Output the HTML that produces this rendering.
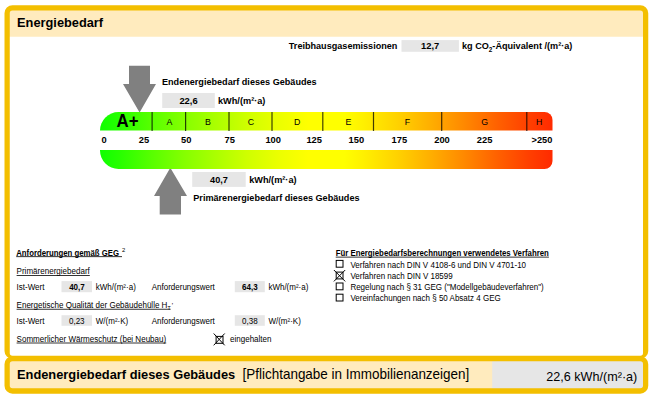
<!DOCTYPE html>
<html>
<head>
<meta charset="utf-8">
<style>
html,body{margin:0;padding:0;background:#fff;}
body{width:659px;height:400px;position:relative;overflow:hidden;font-family:"Liberation Sans",sans-serif;color:#000;}
.abs{position:absolute;white-space:nowrap;line-height:1;}
.gbox{position:absolute;}
.u{text-decoration:underline;text-decoration-thickness:0.7px;text-underline-offset:1px;}
</style>
</head>
<body>
<svg class="abs" style="left:0;top:0;" width="659" height="400" viewBox="0 0 659 400">
  <rect x="8" y="9" width="636.5" height="27.75" fill="#ffebbe"/>
  <rect x="8" y="360" width="486" height="30" fill="#ffebbe"/>
  <rect x="492.2" y="360" width="152" height="30" fill="#e6e6e6"/>
  <path d="M12.5 5.25 H640.25 A8 8 0 0 1 648.25 13.25 V350.9 A8 8 0 0 1 640.25 358.9 H12.5 A8 8 0 0 1 4.5 350.9 V13.25 A8 8 0 0 1 12.5 5.25 Z M12.5 10.5 H640.25 A2.75 2.75 0 0 1 643.0 13.25 V353.0 A2.75 2.75 0 0 1 640.25 355.75 H12.5 A2.75 2.75 0 0 1 9.75 353.0 V13.25 A2.75 2.75 0 0 1 12.5 10.5 Z" fill="#f3bf00" fill-rule="evenodd"/>
  <path d="M12.5 356.2 H640.25 A8 8 0 0 1 648.25 364.2 V385.7 A8 8 0 0 1 640.25 393.7 H12.5 A8 8 0 0 1 4.5 385.7 V364.2 A8 8 0 0 1 12.5 356.2 Z M12.5 361.3 H640.25 A2.75 2.75 0 0 1 643.0 364.05 V385.6 A2.75 2.75 0 0 1 640.25 388.35 H12.5 A2.75 2.75 0 0 1 9.75 385.6 V364.05 A2.75 2.75 0 0 1 12.5 361.3 Z" fill="#f3bf00" fill-rule="evenodd"/>
</svg>
<svg class="abs" style="left:0;top:0;" width="659" height="400" viewBox="0 0 659 400">
  <defs>
    <linearGradient id="gr" x1="100" y1="0" x2="552.5" y2="0" gradientUnits="userSpaceOnUse">
      <stop offset="0" stop-color="#0fff00"/>
      <stop offset="0.044" stop-color="#28ff00"/>
      <stop offset="0.115" stop-color="#58ff00"/>
      <stop offset="0.186" stop-color="#85ff00"/>
      <stop offset="0.254" stop-color="#aaff00"/>
      <stop offset="0.325" stop-color="#cfff00"/>
      <stop offset="0.396" stop-color="#ecff00"/>
      <stop offset="0.46" stop-color="#ffff00"/>
      <stop offset="0.54" stop-color="#ffff00"/>
      <stop offset="0.583" stop-color="#fff000"/>
      <stop offset="0.657" stop-color="#ffd200"/>
      <stop offset="0.73" stop-color="#ffaf00"/>
      <stop offset="0.804" stop-color="#ff8900"/>
      <stop offset="0.878" stop-color="#ff6100"/>
      <stop offset="0.951" stop-color="#ff3e00"/>
      <stop offset="1.0" stop-color="#ff2a00"/>
    </linearGradient>
  </defs>
  <path d="M129 65.7 H150 V84 H156 L139.6 112.4 L123 84 H129 Z" fill="#808080"/>
  <path d="M159.7 214.5 H181 V196 H187 L170.3 167.8 L154 196 H159.7 Z" fill="#808080"/>
  <path d="M100 130.5 A18.5 18.5 0 0 1 118.5 112 H544.5 A8 8 0 0 1 552.5 120 V130.5 Z" fill="url(#gr)"/>
  <path d="M100 150 H552.5 V161 A8 8 0 0 1 544.5 169 H118.5 A18.5 18.5 0 0 1 100 150.5 Z" fill="url(#gr)"/>
  <g stroke="#000" stroke-opacity="0.75" stroke-width="1.2"><line x1="152.1" y1="112" x2="152.1" y2="131"/><line x1="185.6" y1="112" x2="185.6" y2="131"/><line x1="229" y1="112" x2="229" y2="131"/><line x1="272" y1="112" x2="272" y2="131"/><line x1="322.8" y1="112" x2="322.8" y2="131"/><line x1="373.5" y1="112" x2="373.5" y2="131"/><line x1="441.7" y1="112" x2="441.7" y2="131"/><line x1="526.8" y1="112" x2="526.8" y2="131"/></g>
</svg>
<svg class="abs" style="left:0;top:0;" width="659" height="400" viewBox="0 0 659 400">
  <g stroke="#000" stroke-width="1" fill="none">
    <rect x="336.2" y="260.40" width="6.8" height="6.8" fill="#fff"/><rect x="336.2" y="272.10" width="6.8" height="6.8" fill="#fff"/><rect x="336.2" y="283.00" width="6.8" height="6.8" fill="#fff"/><rect x="336.2" y="294.20" width="6.8" height="6.8" fill="#fff"/>
    <path d="M333.9 270 L345.2 281.4 M345.2 270 L333.9 281.4"/>
    <rect x="216.1" y="336.4" width="6.9" height="6.9" fill="#fff"/>
    <path d="M213.7 333.5 L224.7 345.3 M224.7 333.5 L213.7 345.3"/>
  </g>
</svg>
<svg class="abs" style="left:0;top:0;" width="659" height="400" viewBox="0 0 659 400" font-family="Liberation Sans, sans-serif" fill="#000">
<rect x="401.50" y="40.10" width="57.40" height="11.70" fill="#e6e6e6"/>
<rect x="162.20" y="93.00" width="52.60" height="15.00" fill="#e6e6e6"/>
<rect x="192.20" y="172.00" width="53.50" height="14.90" fill="#e6e6e6"/>
<rect x="61.50" y="281.10" width="30.50" height="11.10" fill="#e6e6e6"/>
<rect x="234.80" y="281.10" width="30.00" height="11.10" fill="#e6e6e6"/>
<rect x="61.50" y="315.20" width="30.50" height="10.60" fill="#e6e6e6"/>
<rect x="234.80" y="315.20" width="30.00" height="10.60" fill="#e6e6e6"/>
<text x="17.10" y="27" font-size="13.2" font-weight="bold" textLength="86.00" lengthAdjust="spacingAndGlyphs" id="ttl">Energiebedarf</text>
<text x="288.80" y="49" font-size="9.5" font-weight="bold" textLength="108.60" lengthAdjust="spacingAndGlyphs" id="treib">Treibhausgasemissionen</text>
<text x="430.20" y="49" font-size="9.5" font-weight="bold" text-anchor="middle" textLength="18.20" lengthAdjust="spacingAndGlyphs" id="g127">12,7</text>
<text x="462.00" y="49" font-size="9.5" font-weight="bold" textLength="110.30" lengthAdjust="spacingAndGlyphs" id="kgco2">kg CO<tspan font-size="6.6" dy="2.6">2</tspan><tspan dy="-2.6">-Äquivalent /(m²·a)</tspan></text>
<text x="162.00" y="85" font-size="9.5" font-weight="bold" textLength="154.60" lengthAdjust="spacingAndGlyphs" id="ende">Endenergiebedarf dieses Gebäudes</text>
<text x="188.50" y="104" font-size="9.5" font-weight="bold" text-anchor="middle" textLength="18.20" lengthAdjust="spacingAndGlyphs" id="g226">22,6</text>
<text x="218.00" y="104" font-size="9.5" font-weight="bold" textLength="47.40" lengthAdjust="spacingAndGlyphs" id="kwh1">kWh/(m²·a)</text>
<text x="218.95" y="183" font-size="9.5" font-weight="bold" text-anchor="middle" textLength="17.80" lengthAdjust="spacingAndGlyphs" id="g407">40,7</text>
<text x="249.20" y="183" font-size="9.5" font-weight="bold" textLength="47.40" lengthAdjust="spacingAndGlyphs" id="kwh2">kWh/(m²·a)</text>
<text x="193.30" y="201" font-size="9.5" font-weight="bold" textLength="166.20" lengthAdjust="spacingAndGlyphs" id="prim">Primärenergiebedarf dieses Gebäudes</text>
<text x="127.60" y="127" font-size="18" font-weight="bold" text-anchor="middle" textLength="22.00" lengthAdjust="spacingAndGlyphs" id="la">A+</text>
<text x="169.40" y="125" font-size="8.8" text-anchor="middle">A</text>
<text x="207.90" y="125" font-size="8.8" text-anchor="middle">B</text>
<text x="250.90" y="125" font-size="8.8" text-anchor="middle">C</text>
<text x="297.10" y="125" font-size="8.8" text-anchor="middle">D</text>
<text x="348.40" y="125" font-size="8.8" text-anchor="middle">E</text>
<text x="407.40" y="125" font-size="8.8" text-anchor="middle">F</text>
<text x="484.60" y="125" font-size="8.8" text-anchor="middle">G</text>
<text x="539.20" y="125" font-size="8.8" text-anchor="middle">H</text>
<text x="104.00" y="143" font-size="9.5" font-weight="bold" text-anchor="middle" textLength="5.20" lengthAdjust="spacingAndGlyphs">0</text>
<text x="144.00" y="143" font-size="9.5" font-weight="bold" text-anchor="middle" textLength="10.40" lengthAdjust="spacingAndGlyphs">25</text>
<text x="186.20" y="143" font-size="9.5" font-weight="bold" text-anchor="middle" textLength="10.40" lengthAdjust="spacingAndGlyphs">50</text>
<text x="229.70" y="143" font-size="9.5" font-weight="bold" text-anchor="middle" textLength="10.40" lengthAdjust="spacingAndGlyphs">75</text>
<text x="273.20" y="143" font-size="9.5" font-weight="bold" text-anchor="middle" textLength="15.60" lengthAdjust="spacingAndGlyphs">100</text>
<text x="314.20" y="143" font-size="9.5" font-weight="bold" text-anchor="middle" textLength="15.60" lengthAdjust="spacingAndGlyphs">125</text>
<text x="356.40" y="143" font-size="9.5" font-weight="bold" text-anchor="middle" textLength="15.60" lengthAdjust="spacingAndGlyphs">150</text>
<text x="399.40" y="143" font-size="9.5" font-weight="bold" text-anchor="middle" textLength="15.60" lengthAdjust="spacingAndGlyphs">175</text>
<text x="442.00" y="143" font-size="9.5" font-weight="bold" text-anchor="middle" textLength="15.60" lengthAdjust="spacingAndGlyphs">200</text>
<text x="484.60" y="143" font-size="9.5" font-weight="bold" text-anchor="middle" textLength="15.60" lengthAdjust="spacingAndGlyphs">225</text>
<text x="552.30" y="143" font-size="9.5" font-weight="bold" text-anchor="end" textLength="20.80" lengthAdjust="spacingAndGlyphs" id="n250">&gt;250</text>
<text x="16.20" y="256" font-size="8.3" font-weight="bold" textLength="102.80" lengthAdjust="spacingAndGlyphs" id="anf">Anforderungen gemäß GEG</text>
<rect x="16.20" y="256.30" width="105.80" height="0.8" fill="#000"/>
<text x="122.00" y="252" font-size="5.8">2</text>
<text x="16.60" y="274" font-size="8.5" textLength="73.20" lengthAdjust="spacingAndGlyphs" id="pe">Primärenergiebedarf</text>
<rect x="16.60" y="275.10" width="73.20" height="0.8" fill="#000"/>
<text x="16.60" y="290" font-size="8.5" textLength="27.86" lengthAdjust="spacingAndGlyphs" id="ist1">Ist-Wert</text>
<text x="76.95" y="290" font-size="8.3" font-weight="bold" text-anchor="middle" textLength="15.60" lengthAdjust="spacingAndGlyphs">40,7</text>
<text x="95.80" y="290" font-size="8.5" textLength="40.00" lengthAdjust="spacingAndGlyphs" id="kw3">kWh/(m²·a)</text>
<text x="151.70" y="290" font-size="8.5" textLength="63.16" lengthAdjust="spacingAndGlyphs" id="aw1">Anforderungswert</text>
<text x="249.80" y="290" font-size="8.3" font-weight="bold" text-anchor="middle" textLength="15.60" lengthAdjust="spacingAndGlyphs">64,3</text>
<text x="268.40" y="290" font-size="8.5" textLength="40.00" lengthAdjust="spacingAndGlyphs" id="kw4">kWh/(m²·a)</text>
<text x="16.60" y="308" font-size="8.5" textLength="154.00" lengthAdjust="spacingAndGlyphs" id="eq">Energetische Qualität der Gebäudehülle H<tspan font-size="5.5" dy="2">T</tspan></text>
<rect x="16.60" y="308.80" width="154.00" height="0.8" fill="#000"/>
<text x="171.80" y="308" font-size="7">'</text>
<text x="16.60" y="324" font-size="8.5" textLength="27.86" lengthAdjust="spacingAndGlyphs" id="ist2">Ist-Wert</text>
<text x="76.75" y="324" font-size="8.5" text-anchor="middle" textLength="15.58" lengthAdjust="spacingAndGlyphs">0,23</text>
<text x="95.80" y="324" font-size="8.5" textLength="32.44" lengthAdjust="spacingAndGlyphs" id="wm1">W/(m²·K)</text>
<text x="151.70" y="324" font-size="8.5" textLength="63.16" lengthAdjust="spacingAndGlyphs" id="aw2">Anforderungswert</text>
<text x="249.80" y="324" font-size="8.5" text-anchor="middle" textLength="15.58" lengthAdjust="spacingAndGlyphs">0,38</text>
<text x="268.40" y="324" font-size="8.5" textLength="32.44" lengthAdjust="spacingAndGlyphs" id="wm2">W/(m²·K)</text>
<text x="16.60" y="342" font-size="8.5" textLength="149.60" lengthAdjust="spacingAndGlyphs" id="som">Sommerlicher Wärmeschutz (bei Neubau)</text>
<rect x="16.60" y="342.60" width="149.60" height="0.8" fill="#000"/>
<text x="230.10" y="342" font-size="8.5" textLength="41.38" lengthAdjust="spacingAndGlyphs" id="eing">eingehalten</text>
<text x="335.70" y="256" font-size="8.3" font-weight="bold" textLength="213.20" lengthAdjust="spacingAndGlyphs" id="fur">Für Energiebedarfsberechnungen verwendetes Verfahren</text>
<rect x="335.70" y="256.70" width="213.20" height="0.8" fill="#000"/>
<text x="350.40" y="268" font-size="8.5" textLength="175.67" lengthAdjust="spacingAndGlyphs" id="r1">Verfahren nach DIN V 4108-6 und DIN V 4701-10</text>
<text x="350.40" y="279" font-size="8.5" textLength="102.30" lengthAdjust="spacingAndGlyphs" id="r2">Verfahren nach DIN V 18599</text>
<text x="350.40" y="290" font-size="8.5" textLength="193.36" lengthAdjust="spacingAndGlyphs" id="r3">Regelung nach § 31 GEG ("Modellgebäudeverfahren")</text>
<text x="350.40" y="301" font-size="8.5" textLength="150.33" lengthAdjust="spacingAndGlyphs" id="r4">Vereinfachungen nach § 50 Absatz 4 GEG</text>
<text x="17.00" y="379" font-size="13.5" font-weight="bold" textLength="218.20" lengthAdjust="spacingAndGlyphs" id="f1">Endenergiebedarf dieses Gebäudes</text>
<text x="242.50" y="379" font-size="14.1" textLength="226.80" lengthAdjust="spacingAndGlyphs" id="f2">[Pflichtangabe in Immobilienanzeigen]</text>
<text x="637.30" y="381" font-size="13.2" text-anchor="end" textLength="91.00" lengthAdjust="spacingAndGlyphs" id="f3">22,6 kWh/(m²·a)</text>
</svg>
</body>
</html>
